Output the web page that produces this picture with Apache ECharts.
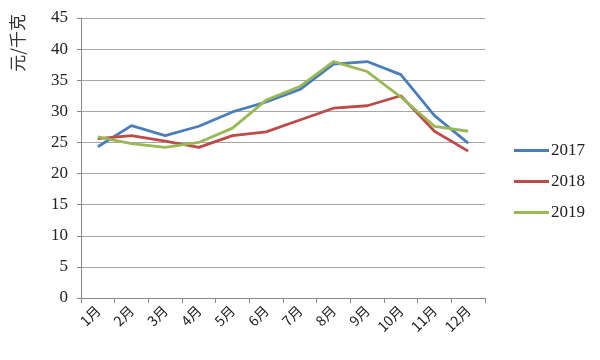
<!DOCTYPE html>
<html><head><meta charset="utf-8">
<script src="https://cdn.jsdelivr.net/npm/echarts@6/dist/echarts.min.js"></script>
<style>html,body{margin:0;padding:0;background:#fff}#c{width:600px;height:360px}</style>
</head><body><div id="c"></div>
<script>
const categories = ['1月','2月','3月','4月','5月','6月','7月','8月','9月','10月','11月','12月'];
const s2017 = [24.3, 27.7, 26.1, 27.6, 29.9, 31.5, 33.5, 37.6, 38.0, 35.9, 29.3, 24.9];
const s2018 = [25.6, 26.1, 25.2, 24.2, 26.1, 26.7, 28.6, 30.5, 30.9, 32.5, 26.8, 23.6];
const s2019 = [25.9, 24.8, 24.2, 25.0, 27.3, 31.8, 34.0, 38.0, 36.4, 32.3, 27.6, 26.8];
const seriesNames = ['2017','2018','2019'];
const colors = ['#4a7ebb','#be4b48','#98b954'];
const yTicks = {min:0, max:45, interval:5};
const yName = '元/千克';

const font = 'Liberation Serif, DejaVu Serif, serif';
const chart = echarts.init(document.getElementById('c'));
const mk = (name, data, i) => ({
  name, type:'line', data, symbol:'none', smooth:false,
  lineStyle:{color:colors[i], width:2.8}, itemStyle:{color:colors[i]}
});
chart.setOption({
  animation:false,
  grid:{left:81, right:115, top:18, bottom:62},
  legend:{
    orient:'vertical', left:509, top:137, itemGap:14, itemWidth:35, itemHeight:3,
    icon:'rect', textStyle:{fontFamily:font, fontSize:17, color:'#222', padding:[0,0,0,-3]},
    data:seriesNames
  },
  graphic:[{type:'text', left:9, top:14, rotation:Math.PI/2,
    style:{text:yName, font:'17px "Noto Sans CJK SC", sans-serif', fill:'#333'}}],
  xAxis:{
    type:'category', data:categories, boundaryGap:true,
    axisLine:{lineStyle:{color:'#888'}},
    axisTick:{show:true, length:5, lineStyle:{color:'#888'}},
    axisLabel:{rotate:45, color:'#222', fontSize:14, fontFamily:'"Noto Sans CJK SC", sans-serif', margin:10}
  },
  yAxis:{
    type:'value', min:yTicks.min, max:yTicks.max, interval:yTicks.interval,
    axisLine:{show:true, lineStyle:{color:'#888'}},
    axisTick:{show:true, length:4, lineStyle:{color:'#888'}},
    splitLine:{lineStyle:{color:'#a6a6a6'}},
    axisLabel:{color:'#222', fontSize:17, fontFamily:font, margin:13}
  },
  series:[mk('2017', s2017, 0), mk('2018', s2018, 1), mk('2019', s2019, 2)]
});
</script></body></html>
